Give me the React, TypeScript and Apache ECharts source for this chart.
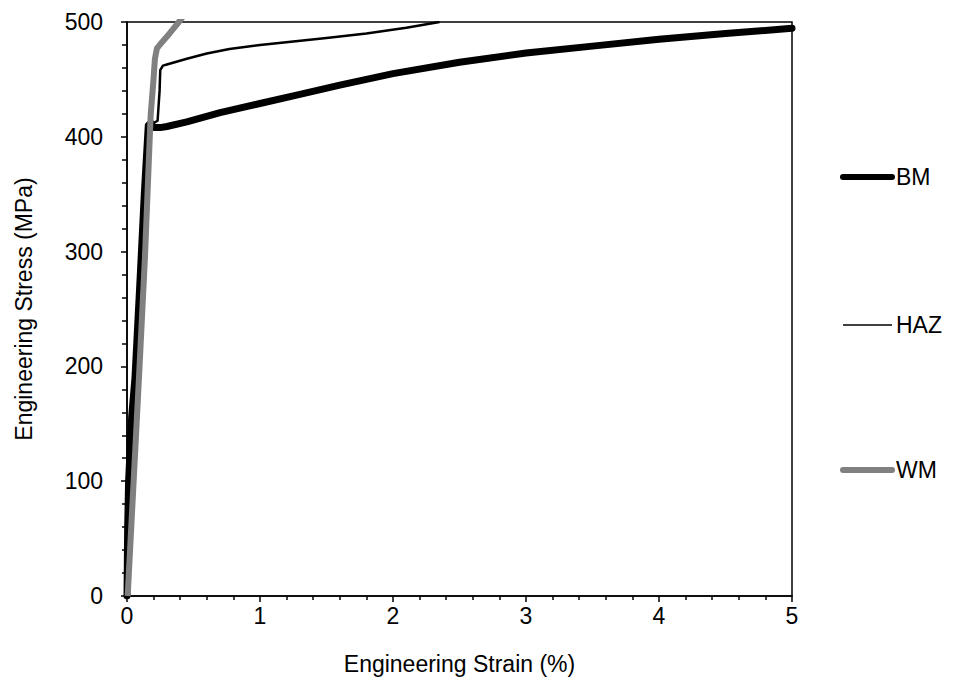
import React, { useEffect, useRef } from "react";
import * as echarts from "echarts";

const xTicks = [0, 1, 2, 3, 4, 5];
const yTicks = [0, 100, 200, 300, 400, 500];

const seriesNames = ["BM", "HAZ", "WM"];

const bmStrain = [0, 0.005, 0.012, 0.035, 0.06, 0.1, 0.13, 0.16, 0.18, 0.2, 0.25, 0.3, 0.45, 0.7, 1.0, 1.3, 1.6, 2.0, 2.5, 3.0, 3.5, 4.0, 4.5, 5.0];
const bmStress = [0, 60, 100, 156, 190, 280, 350, 410, 412, 408, 408, 409, 413, 421, 429, 437, 445, 455, 465, 473, 479, 485, 490, 494.5];

const hazStrain = [0, 0.005, 0.015, 0.04, 0.07, 0.11, 0.15, 0.17, 0.23, 0.245, 0.25, 0.27, 0.3, 0.45, 0.6, 0.77, 1.0, 1.25, 1.5, 1.8, 2.1, 2.35];
const hazStress = [0, 60, 100, 160, 215, 290, 370, 410, 414, 440, 458, 462, 463, 468, 472.5, 476.5, 480, 483, 486, 490, 495, 500];

const wmStrain = [0.005, 0.05, 0.09, 0.135, 0.178, 0.198, 0.21, 0.225, 0.26, 0.32, 0.39, 0.43];
const wmStress = [0, 100, 190, 295, 419, 448, 468, 477, 482, 490, 500, 506];

const FONT = "'Liberation Sans', Arial, sans-serif";
const FS = 23;

const pairs = (xs: number[], ys: number[]) => xs.map((x, i) => [x, ys[i]]);

export default function App() {
  const ref = useRef<HTMLDivElement>(null);
  useEffect(() => {
    if (!ref.current) return;
    const chart = echarts.init(ref.current, undefined, { renderer: "svg" });
    const legendY = [177, 325, 470];
    const legendStyle = [
      { stroke: "#000", lineWidth: 6, lineCap: "round" },
      { stroke: "#000", lineWidth: 1.3, lineCap: "butt" },
      { stroke: "#808080", lineWidth: 6, lineCap: "round" },
    ];
    const legendGraphics: any[] = [];
    seriesNames.forEach((name, i) => {
      legendGraphics.push({
        type: "line",
        shape: { x1: 843, y1: legendY[i], x2: 892, y2: legendY[i] },
        style: legendStyle[i],
      });
      legendGraphics.push({
        type: "text",
        x: 896,
        y: legendY[i],
        style: {
          text: name,
          fontSize: FS,
          fontFamily: FONT,
          fill: "#000",
          textVerticalAlign: "middle",
          verticalAlign: "middle",
        },
      });
    });
    chart.setOption({
      animation: false,
      backgroundColor: "#ffffff",
      textStyle: { fontFamily: FONT },
      grid: {
        left: 127,
        right: 163,
        top: 22,
        bottom: 98,
        show: true,
        borderColor: "#000",
        borderWidth: 1.5,
      },
      graphic: legendGraphics,
      xAxis: {
        type: "value",
        min: 0,
        max: 5,
        interval: 1,
        name: "Engineering Strain (%)",
        nameLocation: "middle",
        nameGap: 56,
        nameTextStyle: { fontSize: FS, color: "#000", fontFamily: FONT },
        axisLine: { show: true, onZero: false, lineStyle: { color: "#000", width: 1.5 } },
        axisTick: { show: true, length: 6, lineStyle: { color: "#000", width: 1.5 } },
        minorTick: { show: true, splitNumber: 5, length: 4, lineStyle: { color: "#000", width: 1.5 } },
        axisLabel: { fontSize: FS, color: "#000", margin: 8, fontFamily: FONT, formatter: (v: number) => (xTicks.includes(v) ? String(v) : "") },
        splitLine: { show: false },
      },
      yAxis: {
        type: "value",
        min: 0,
        max: 500,
        interval: 100,
        name: "Engineering Stress (MPa)",
        nameLocation: "middle",
        nameGap: 92,
        nameTextStyle: { fontSize: FS, color: "#000", fontFamily: FONT },
        axisLine: { show: true, onZero: false, lineStyle: { color: "#000", width: 1.5 } },
        axisTick: { show: true, length: 6, lineStyle: { color: "#000", width: 1.5 } },
        minorTick: { show: true, splitNumber: 5, length: 5, lineStyle: { color: "#000", width: 1.5 } },
        axisLabel: { fontSize: FS, color: "#000", margin: 24, fontFamily: FONT, formatter: (v: number) => (yTicks.includes(v) ? String(v) : "") },
        splitLine: { show: false },
      },
      series: [
        {
          name: seriesNames[0],
          type: "line",
          data: pairs(bmStrain, bmStress),
          showSymbol: false,
          symbol: "none",
          lineStyle: { color: "#000", width: 7, join: "round", cap: "round" },
          itemStyle: { color: "#000" },
          clip: true,
        },
        {
          name: seriesNames[1],
          type: "line",
          data: pairs(hazStrain, hazStress),
          showSymbol: false,
          symbol: "none",
          lineStyle: { color: "#000", width: 2.5, join: "round" },
          itemStyle: { color: "#000" },
          clip: true,
        },
        {
          name: seriesNames[2],
          type: "line",
          data: pairs(wmStrain, wmStress),
          showSymbol: false,
          symbol: "none",
          lineStyle: { color: "#808080", width: 6, join: "round" },
          itemStyle: { color: "#808080" },
          clip: true,
        },
      ],
    });
    return () => chart.dispose();
  }, []);
  return <div ref={ref} style={{ width: 955, height: 694, position: "absolute", left: 0, top: 0 }} />;
}
